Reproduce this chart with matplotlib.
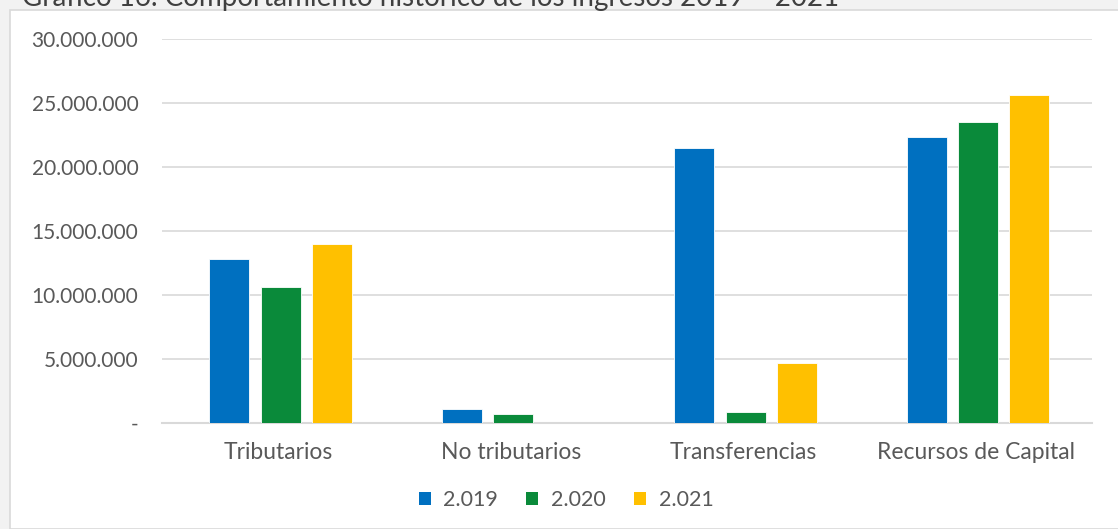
import numpy as np
import matplotlib.pyplot as plt
from matplotlib.patches import Rectangle, Patch

# --- Data ---
categories = ['Tributarios', 'No tributarios', 'Transferencias', 'Recursos de Capital']
series_names = ['2.019', '2.020', '2.021']
values_2019 = [12840000, 1070000, 21440000, 22340000]
values_2020 = [10600000, 730000, 860000, 23520000]
values_2021 = [13980000, 0, 4660000, 25580000]
y_ticks = [0, 5000000, 10000000, 15000000, 20000000, 25000000, 30000000]

colors = ['#0070C0', '#0A8A3A', '#FFC000']
text_color = '#595959'
grid_color = '#D9D9D9'

plt.rcParams['font.family'] = ['Lato', 'DejaVu Sans']

fig = plt.figure(figsize=(11.18, 5.29), dpi=100)
fig.patch.set_facecolor('#F2F2F2')

# white chart box with thin grey border
fig.patches.append(Rectangle((10 / 1118, 0), 1.0, 1 - 10 / 529, transform=fig.transFigure,
                             facecolor='white', edgecolor=grid_color, linewidth=1.2, zorder=-10))

# title (cut off at the top in the reference)
fig.text(22 / 1118, 1 - 6 / 529, 'Gráfico 16. Comportamiento histórico de los ingresos 2019 – 2021',
         fontsize=20, color='#404040', ha='left', va='baseline', zorder=1)

ax = fig.add_axes([162 / 1118, 1 - 423 / 529, (1092 - 162) / 1118, (423 - 38.7) / 529])
ax.set_facecolor('none')

x = np.arange(len(categories))
width = 0.172
offset = 0.22
for i, (vals, name) in enumerate(zip([values_2019, values_2020, values_2021], series_names)):
    ax.bar(x + (i - 1) * offset + 0.01, vals, width, color=colors[i], edgecolor='white',
           linewidth=0.6, label=name, zorder=3)

ax.set_xlim(-0.5, len(categories) - 0.5)
ax.set_ylim(0, 30000000)
ax.set_yticks(y_ticks)
ax.set_yticklabels(['-'] + [f'{v:,.0f}'.replace(',', '.') for v in y_ticks[1:]])
ax.set_xticks(x)
ax.set_xticklabels(categories)

ax.grid(axis='y', color=grid_color, linewidth=1.2, zorder=0)
for s in ['top', 'right', 'left']:
    ax.spines[s].set_visible(False)
ax.spines['bottom'].set_color(grid_color)
ax.spines['bottom'].set_linewidth(1.5)
ax.tick_params(axis='both', length=0, labelcolor=text_color)
ax.tick_params(axis='y', pad=17, labelsize=15)
ax.tick_params(axis='x', pad=14, labelsize=16.5)

handles = [Patch(facecolor=c, edgecolor='none') for c in colors]
fig.legend(handles, series_names, loc='center', bbox_to_anchor=(566 / 1118, 1 - 500 / 529),
           ncol=3, frameon=False, fontsize=15.5, labelcolor=text_color,
           handlelength=0.55, handleheight=0.55, handletextpad=0.6, columnspacing=1.3)

fig.savefig('out.png', dpi=100, facecolor=fig.get_facecolor())
